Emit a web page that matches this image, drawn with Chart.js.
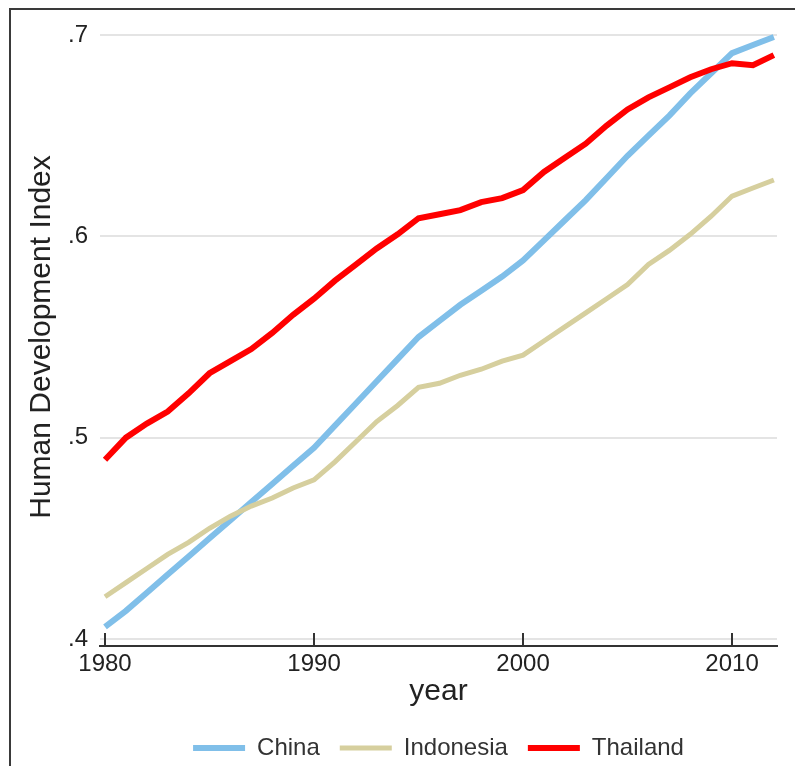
<!DOCTYPE html>
<html>
<head>
<meta charset="utf-8">
<title>Human Development Index</title>
<script src="https://cdn.jsdelivr.net/npm/chart.js@4.4.0/dist/chart.umd.min.js"></script>
<style>
  html, body { margin: 0; padding: 0; background: #fff; }
  #wrap { position: relative; width: 795px; height: 766px; overflow: hidden; }
  #frame { position: absolute; left: 9px; top: 8px; width: 900px; height: 900px; border: 2px solid #3a3a3a; box-sizing: border-box; }
  canvas { position: absolute; left: 0; top: 0; }
</style>
</head>
<body>
<div id="wrap">
  <div id="frame"></div>
  <canvas id="chart" width="795" height="766"></canvas>
</div>
<script>
const years = [1980, 1981, 1982, 1983, 1984, 1985, 1986, 1987, 1988, 1989, 1990,
               1991, 1992, 1993, 1994, 1995, 1996, 1997, 1998, 1999, 2000,
               2001, 2002, 2003, 2004, 2005, 2006, 2007, 2008, 2009, 2010, 2011, 2012];
const china = [0.406, 0.414, 0.423, 0.432, 0.441, 0.450, 0.459, 0.468, 0.477, 0.486, 0.495,
               0.506, 0.517, 0.528, 0.539, 0.550, 0.558, 0.566, 0.573, 0.580, 0.588,
               0.598, 0.608, 0.618, 0.629, 0.640, 0.650, 0.660, 0.671, 0.681, 0.691, 0.695, 0.699];
const indonesia = [0.421, 0.428, 0.435, 0.442, 0.448, 0.455, 0.461, 0.466, 0.470, 0.475, 0.479,
                   0.488, 0.498, 0.508, 0.516, 0.525, 0.527, 0.531, 0.534, 0.538, 0.541,
                   0.548, 0.555, 0.562, 0.569, 0.576, 0.586, 0.593, 0.601, 0.610, 0.620, 0.624, 0.628];
const thailand = [0.489, 0.500, 0.507, 0.513, 0.522, 0.532, 0.538, 0.544, 0.552, 0.561, 0.569,
                  0.578, 0.586, 0.594, 0.601, 0.609, 0.611, 0.613, 0.617, 0.619, 0.623,
                  0.632, 0.639, 0.646, 0.655, 0.663, 0.669, 0.674, 0.679, 0.683, 0.686, 0.685, 0.690];
const xTicks = [1980, 1990, 2000, 2010];
const yTicks = [0.4, 0.5, 0.6, 0.7];
const yTickLabels = ['.4', '.5', '.6', '.7'];

const font = '"Liberation Sans", Arial, sans-serif';

function series(label, values, color, width, order) {
  return {
    label: label,
    data: years.map((yr, i) => ({ x: yr, y: values[i] })),
    borderColor: color,
    backgroundColor: color,
    borderWidth: width,
    pointRadius: 0,
    tension: 0,
    order: order
  };
}

// stata style tick marks pointing into the plot
const innerTicks = {
  id: 'innerTicks',
  afterDraw(chart) {
    const sx = chart.scales.x;
    const ctx = chart.ctx;
    const b = chart.chartArea.bottom;
    ctx.save();
    ctx.strokeStyle = '#333';
    ctx.lineWidth = 2;
    xTicks.forEach(v => {
      const px = Math.round(sx.getPixelForValue(v));
      ctx.beginPath();
      ctx.moveTo(px, b);
      ctx.lineTo(px, b - 13);
      ctx.stroke();
    });
    ctx.restore();
  }
};

new Chart(document.getElementById('chart'), {
  type: 'line',
  data: {
    datasets: [
      series('China', china, '#80bfe9', 6, 3),
      series('Indonesia', indonesia, '#d6cf9e', 5, 2),
      series('Thailand', thailand, '#ff0000', 6, 1)
    ]
  },
  plugins: [innerTicks],
  options: {
    responsive: false,
    animation: false,
    layout: { padding: { left: 0, top: 28, right: 18, bottom: -4 } },
    plugins: {
      tooltip: { enabled: false },
      legend: {
        position: 'bottom',
        fullSize: false,
        labels: {
          usePointStyle: true,
          pointStyle: 'line',
          pointStyleWidth: 52,
          padding: 20,
          color: '#333',
          font: { family: font, size: 24 },
          sort: (a, b) => a.datasetIndex - b.datasetIndex
        }
      }
    },
    scales: {
      x: {
        type: 'linear',
        min: 1979.76,
        max: 2012.15,
        afterFit: s => { s.height = 70; },
        afterBuildTicks: s => { s.ticks = xTicks.map(v => ({ value: v })); },
        grid: { display: true, drawOnChartArea: false, drawTicks: false },
        border: { display: true, color: '#333', width: 2 },
        ticks: {
          padding: 4,
          color: '#222',
          font: { family: font, size: 24 },
          maxRotation: 0,
          callback: v => String(v)
        },
        title: {
          display: true,
          text: 'year',
          color: '#222',
          font: { family: font, size: 30 },
          padding: { top: 0, bottom: 6 }
        }
      },
      y: {
        min: 0.39652,
        max: 0.70348,
        afterFit: s => { s.width = 100; },
        afterBuildTicks: s => { s.ticks = yTicks.map(v => ({ value: v })); },
        grid: { color: '#e4e4e4', lineWidth: 2, drawTicks: false },
        border: { display: false },
        ticks: {
          padding: 12,
          color: '#222',
          font: { family: font, size: 24 },
          callback: v => yTickLabels[yTicks.findIndex(t => Math.abs(t - v) < 1e-6)]
        },
        title: {
          display: true,
          text: 'Human Development Index',
          color: '#222',
          font: { family: font, size: 30 },
          padding: { top: 24, bottom: 0 }
        }
      }
    }
  }
});
</script>
</body>
</html>
